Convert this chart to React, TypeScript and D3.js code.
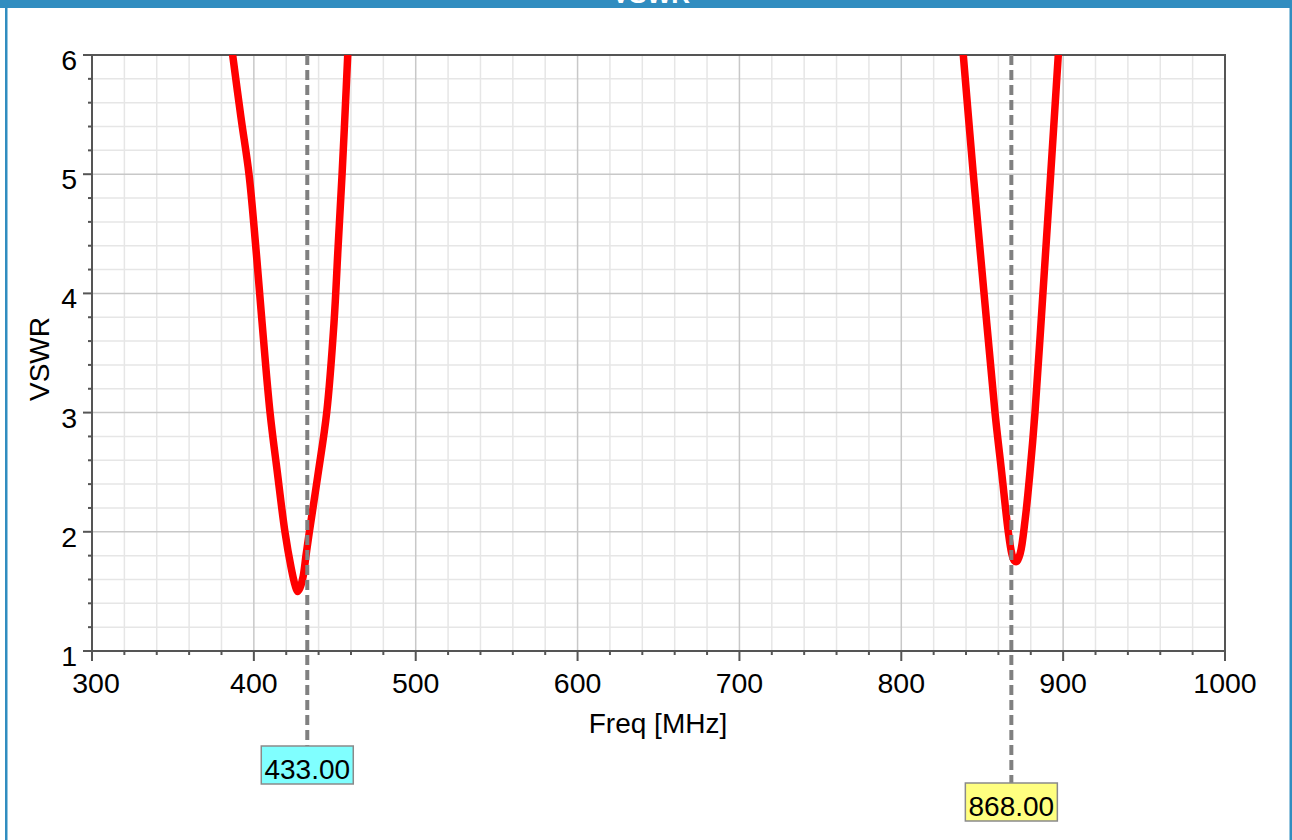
import React, { useEffect, useRef } from 'react';
import * as d3 from 'd3';

// Band 1 (around 433 MHz)
const dip1Freq = [386.9, 392, 397, 401, 404.8, 410, 414.5, 419.2, 423, 425.5, 427, 428.5, 430.5, 432.2, 434.3, 439.5, 445, 449.5, 452, 454.5, 456.3, 458];
const dip1Vswr = [6.0, 5.48, 5.0, 4.42, 3.8, 3.0, 2.5, 2.0, 1.7, 1.55, 1.5, 1.53, 1.63, 1.8, 2.0, 2.47, 3.0, 3.75, 4.38, 5.0, 5.5, 6.0];

// Band 2 (around 868 MHz)
const dip2Freq = [838.3, 844.5, 852.8, 857.9, 862, 866.1, 868.2, 869.7, 871.3, 873.5, 876.5, 879.5, 882.6, 887.5, 892.3, 897];
const dip2Vswr = [6.0, 5.0, 3.75, 3.0, 2.5, 2.0, 1.82, 1.76, 1.75, 1.82, 2.1, 2.5, 3.0, 4.0, 5.0, 6.0];

const xTicks = [300, 400, 500, 600, 700, 800, 900, 1000];
const yTicks = [1, 2, 3, 4, 5, 6];

const markers = [
  { freq: 433, label: '433.00', fill: '#80ffff', boxTop: 746 },
  { freq: 868, label: '868.00', fill: '#ffff80', boxTop: 783 },
];

const App = () => {
  const ref = useRef<SVGSVGElement>(null);

  useEffect(() => {
    const width = 1292;
    const height = 840;
    const margin = { top: 55, right: 67, bottom: 189, left: 92 };
    const innerWidth = width - margin.left - margin.right;
    const innerHeight = height - margin.top - margin.bottom;
    const font = 'Arial, "Liberation Sans", sans-serif';

    const svg = d3.select(ref.current)
      .attr('width', width)
      .attr('height', height);

    svg.selectAll('*').remove();

    svg.append('rect')
      .attr('width', width)
      .attr('height', height)
      .attr('fill', '#ffffff');

    // Blue frame
    const blue = '#318dc0';
    svg.append('rect').attr('x', 0).attr('y', 0).attr('width', width).attr('height', 8).attr('fill', blue);
    svg.append('rect').attr('x', 5).attr('y', 0).attr('width', 2.5).attr('height', height).attr('fill', blue);
    svg.append('rect').attr('x', 1289.5).attr('y', 0).attr('width', 2.5).attr('height', height).attr('fill', blue);

    // chart title, cut off by the top edge as in the source window
    svg.append('text')
      .attr('x', 651)
      .attr('y', 3)
      .attr('text-anchor', 'middle')
      .attr('font-family', font)
      .attr('font-weight', 'bold')
      .attr('font-size', 26)
      .attr('fill', '#ffffff')
      .text('VSWR');

    const g = svg.append('g')
      .attr('transform', `translate(${margin.left},${margin.top})`);

    const x = d3.scaleLinear().domain([300, 1000]).range([0, innerWidth]);
    const y = d3.scaleLinear().domain([1, 6]).range([innerHeight, 0]);

    const xMinor = d3.range(300, 1000.1, 20).filter(v => v % 100 !== 0);
    const yMinor = d3.range(1, 6.01, 0.2).map(v => +v.toFixed(1)).filter(v => !Number.isInteger(v));

    // Minor grid
    g.selectAll('.xminor')
      .data(xMinor)
      .enter().append('line')
      .attr('x1', d => x(d)).attr('x2', d => x(d))
      .attr('y1', 0).attr('y2', innerHeight)
      .attr('stroke', '#e6e6e6').attr('stroke-width', 1.5);

    g.selectAll('.yminor')
      .data(yMinor)
      .enter().append('line')
      .attr('x1', 0).attr('x2', innerWidth)
      .attr('y1', d => y(d)).attr('y2', d => y(d))
      .attr('stroke', '#e6e6e6').attr('stroke-width', 1.5);

    // Major grid
    g.selectAll('.xmajor')
      .data(xTicks)
      .enter().append('line')
      .attr('x1', d => x(d)).attr('x2', d => x(d))
      .attr('y1', 0).attr('y2', innerHeight)
      .attr('stroke', '#c8c8c8').attr('stroke-width', 1.5);

    g.selectAll('.ymajor')
      .data(yTicks)
      .enter().append('line')
      .attr('x1', 0).attr('x2', innerWidth)
      .attr('y1', d => y(d)).attr('y2', d => y(d))
      .attr('stroke', '#c8c8c8').attr('stroke-width', 1.5);

    // Plot box
    g.append('rect')
      .attr('width', innerWidth)
      .attr('height', innerHeight)
      .attr('fill', 'none')
      .attr('stroke', '#555555')
      .attr('stroke-width', 2);

    // Ticks
    const axisColor = '#555555';
    g.selectAll('.xtick')
      .data(xTicks)
      .enter().append('line')
      .attr('x1', d => x(d)).attr('x2', d => x(d))
      .attr('y1', innerHeight).attr('y2', innerHeight + 10)
      .attr('stroke', axisColor).attr('stroke-width', 2);

    g.selectAll('.xmtick')
      .data(xMinor)
      .enter().append('line')
      .attr('x1', d => x(d)).attr('x2', d => x(d))
      .attr('y1', innerHeight).attr('y2', innerHeight + 4)
      .attr('stroke', axisColor).attr('stroke-width', 2);

    g.selectAll('.ytick')
      .data(yTicks)
      .enter().append('line')
      .attr('x1', -9).attr('x2', 0)
      .attr('y1', d => y(d)).attr('y2', d => y(d))
      .attr('stroke', axisColor).attr('stroke-width', 2);

    g.selectAll('.ymtick')
      .data(yMinor)
      .enter().append('line')
      .attr('x1', -4).attr('x2', 0)
      .attr('y1', d => y(d)).attr('y2', d => y(d))
      .attr('stroke', axisColor).attr('stroke-width', 2);

    // Tick labels
    g.selectAll('.xlabel')
      .data(xTicks)
      .enter().append('text')
      .attr('x', d => x(d) + (d === 300 ? 4 : 0))
      .attr('y', innerHeight + 42)
      .attr('text-anchor', 'middle')
      .attr('font-family', font)
      .attr('font-size', 28.5)
      .attr('fill', '#000')
      .text(d => d);

    g.selectAll('.ylabel')
      .data(yTicks)
      .enter().append('text')
      .attr('x', -15)
      .attr('y', d => y(d) + 15)
      .attr('text-anchor', 'end')
      .attr('font-family', font)
      .attr('font-size', 28.5)
      .attr('fill', '#000')
      .text(d => d);

    // Axis titles
    svg.append('text')
      .attr('x', 658)
      .attr('y', 733)
      .attr('text-anchor', 'middle')
      .attr('font-family', font)
      .attr('font-size', 28)
      .attr('fill', '#000')
      .text('Freq [MHz]');

    svg.append('text')
      .attr('transform', 'translate(49,359) rotate(-90)')
      .attr('text-anchor', 'middle')
      .attr('font-family', font)
      .attr('font-size', 28)
      .attr('fill', '#000')
      .text('VSWR');

    // Clip
    svg.append('defs').append('clipPath')
      .attr('id', 'plot-clip')
      .append('rect')
      .attr('width', innerWidth)
      .attr('height', innerHeight);

    const line = d3.line<[number, number]>()
      .curve(d3.curveCatmullRom.alpha(0.5))
      .x(d => x(d[0]))
      .y(d => y(d[1]));

    const plot = g.append('g').attr('clip-path', 'url(#plot-clip)');
    [
      dip1Freq.map((f, i) => [f, dip1Vswr[i]] as [number, number]),
      dip2Freq.map((f, i) => [f, dip2Vswr[i]] as [number, number]),
    ].forEach(pts => {
      plot.append('path')
        .attr('d', line(pts))
        .attr('fill', 'none')
        .attr('stroke', '#ff0000')
        .attr('stroke-width', 7.5)
        .attr('stroke-linejoin', 'round')
        .attr('stroke-linecap', 'round');
    });

    // Markers
    markers.forEach(m => {
      const mx = margin.left + x(m.freq);
      svg.append('line')
        .attr('x1', mx).attr('x2', mx)
        .attr('y1', margin.top).attr('y2', m.boxTop)
        .attr('stroke', '#808080')
        .attr('stroke-width', 4)
        .attr('stroke-dasharray', '10,5');

      svg.append('rect')
        .attr('x', mx - 46)
        .attr('y', m.boxTop)
        .attr('width', 92)
        .attr('height', 38)
        .attr('fill', m.fill)
        .attr('stroke', '#8a8a8a')
        .attr('stroke-width', 1.5);

      svg.append('text')
        .attr('x', mx)
        .attr('y', m.boxTop + 33)
        .attr('text-anchor', 'middle')
        .attr('font-family', font)
        .attr('font-size', 28)
        .attr('fill', '#000')
        .text(m.label);
    });
  }, []);

  return <svg ref={ref} style={{ position: 'absolute', left: 0, top: 0 }}></svg>;
};

export default App;
